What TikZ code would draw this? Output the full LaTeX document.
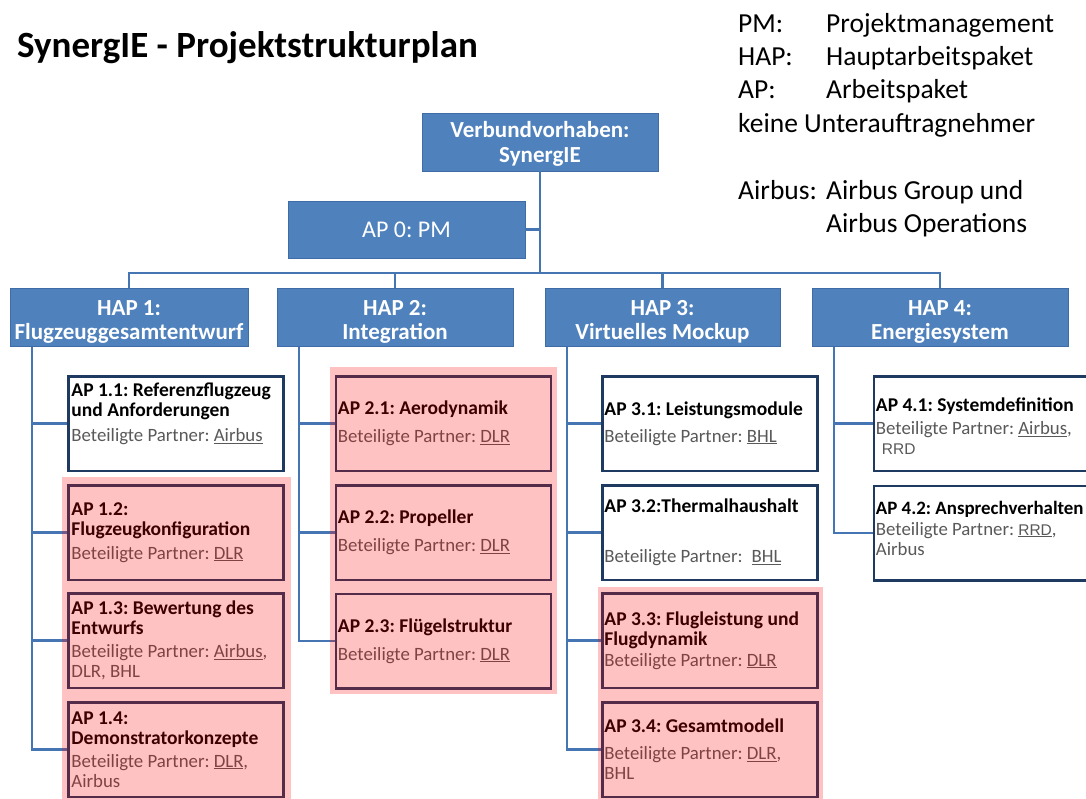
\documentclass[tikz,border=0pt]{standalone}
\usepackage{fontspec}
\setmainfont{Carlito}
\newfontfamily\rrdfont{Liberation Sans}
\definecolor{hapblue}{HTML}{4F81BD}
\definecolor{hapedge}{HTML}{3F6CA6}
\definecolor{conn}{HTML}{4675B3}
\definecolor{apedge}{HTML}{1F3A60}
\definecolor{pgray}{HTML}{595959}
\newcommand\fs[2]{\fontsize{#1}{#2}\selectfont}
\newcommand\apt[1]{{\bfseries #1}}
\newcommand\ptn[1]{{\color{pgray}\fs{18.8}{20}#1}}
\newcommand\rrd[1]{{\rrdfont\fs{15.5}{20}#1}}
\newcommand\hapup{\rule{0pt}{24.4pt}}
\begin{document}
\frenchspacing
\begin{tikzpicture}[x=1pt,y=-1pt,
  bluebox/.style={draw=hapedge, line width=0.8pt, fill=hapblue, text=white, align=center, inner sep=0pt},
  hapbox/.style={bluebox, minimum height=58pt, font=\bfseries\fs{23}{24}},
  apbox/.style={draw=apedge, line width=2.5pt, fill=white, minimum width=215pt, minimum height=94.5pt, inner sep=0pt},
  aptext/.style={align=left, inner sep=0pt, font=\fs{19.5}{20}},
  link/.style={draw=conn, line width=2.5pt},
  legtext/.style={anchor=base west, inner sep=0pt, font=\fs{27.5}{33}},
  pinkveil/.style={fill=red, fill opacity=0.24}
]
\useasboundingbox (0,0) rectangle (1086,798);
\fill[white] (0,0) rectangle (1086,798);
\clip (0,0) rectangle (1086,798);

% title and legend
\node[anchor=base west, inner sep=0pt, font=\bfseries\fs{37}{40}] (title) at (17,57) {SynergIE - Projektstrukturplan};
\node[legtext] (l1a) at (738,32) {PM:};
\node[legtext] (l1b) at (826,32) {Projektmanagement};
\node[legtext] (l2a) at (738,65) {HAP:};
\node[legtext] (l2b) at (826,65) {Hauptarbeitspaket};
\node[legtext] (l3a) at (738,98.5) {AP:};
\node[legtext] (l3b) at (826,98.5) {Arbeitspaket};
\node[legtext] (l4) at (738,132) {keine Unterauftragnehmer};
\node[legtext] (l5a) at (738,199) {Airbus:};
\node[legtext] (l5b) at (826,199) {Airbus Group und};
\node[legtext] (l6) at (826,232.5) {Airbus Operations};

% top boxes
\node[bluebox, minimum width=236pt, minimum height=58pt, font=\bfseries\fs{23}{25}] (vb) at (540,142) {\rule{0pt}{20.4pt}Verbundvorhaben:\\SynergIE};
\node[bluebox, minimum width=237pt, minimum height=57pt, font=\fs{24}{25}] (ap0) at (406.5,229.5) {AP 0: PM};

% HAP boxes
\node[hapbox, minimum width=238pt] (hap1) at (129,317.5) {\hapup HAP 1:\\Flugzeuggesamtentwurf};
\node[hapbox, minimum width=236pt] (hap2) at (395,317.5) {\hapup HAP 2:\\Integration};
\node[hapbox, minimum width=235pt] (hap3) at (662.5,317.5) {\hapup HAP 3:\\Virtuelles Mockup};
\node[hapbox, minimum width=256pt] (hap4) at (940,317.5) {\hapup HAP 4:\\Energiesystem};

% upper connectors
\coordinate (bus) at (540,273);
\draw[link] (vb.south) -- (bus);
\draw[link] (ap0.east) -- (ap0.east -| vb.south);
\draw[link] (hap1.north) -- (hap1.north |- bus) -- (hap4.north |- bus) -- (hap4.north);
\draw[link] (hap2.north) -- (hap2.north |- bus);
\draw[link] (hap3.north) -- (hap3.north |- bus);

\coordinate (v1) at ([xshift=22.5pt]hap1.south west);
\coordinate (v2) at ([xshift=22.5pt]hap2.south west);
\coordinate (v3) at ([xshift=22.5pt]hap3.south west);
\coordinate (v4) at ([xshift=22.5pt]hap4.south west);

% AP boxes
\node[apbox] (ap11) at (176,423.5) {};
\node[apbox] (ap12) at (176,532.5) {};
\node[apbox] (ap13) at (176,640.5) {};
\node[apbox] (ap14) at (176,749.5) {};
\node[apbox] (ap21) at (443.5,423.5) {};
\node[apbox] (ap22) at (443.5,532.5) {};
\node[apbox] (ap23) at (443.5,641) {};
\node[apbox] (ap31) at (710,423.5) {};
\node[apbox] (ap32) at (710,532.5) {};
\node[apbox] (ap33) at (710,640.5) {};
\node[apbox] (ap34) at (710,749.5) {};
\node[apbox] (ap41) at (981.5,423.5) {};
\node[apbox] (ap42) at (981.5,533) {};

% lower connectors
\foreach \v/\b in {v1/ap11,v1/ap12,v1/ap13,v1/ap14,v2/ap21,v2/ap22,v2/ap23,v3/ap31,v3/ap32,v3/ap33,v3/ap34,v4/ap41,v4/ap42}
  \draw[link] (\v) |- (\b.west);

% AP texts
\node[aptext, anchor=north west] (t11) at ([xshift=4pt,yshift=-8pt]ap11.north west)
  {\apt{AP 1.1: Referenzflugzeug}\\\apt{und Anforderungen}\\[5pt]\ptn{Beteiligte Partner: \underline{Airbus}}};
\node[aptext, anchor=west] (t12) at ([xshift=4pt]ap12.west)
  {\apt{AP 1.2:}\\\apt{Flugzeugkonfiguration}\\[4pt]\ptn{Beteiligte Partner: \underline{DLR}}};
\node[aptext, anchor=west] (t13) at ([xshift=4pt]ap13.west)
  {\apt{AP 1.3: Bewertung des}\\\apt{Entwurfs}\\[3pt]\ptn{Beteiligte Partner: \underline{Airbus},}\\\ptn{DLR, BHL}};
\node[aptext, anchor=west] (t14) at ([xshift=4pt]ap14.west)
  {\apt{AP 1.4:}\\\apt{Demonstratorkonzepte}\\[3pt]\ptn{Beteiligte Partner: \underline{DLR},}\\\ptn{Airbus}};
\node[aptext, anchor=west] (t21) at ([xshift=3pt]ap21.west)
  {\apt{AP 2.1: Aerodynamik}\\[8pt]\ptn{Beteiligte Partner: \underline{DLR}}};
\node[aptext, anchor=west] (t22) at ([xshift=3pt]ap22.west)
  {\apt{AP 2.2: Propeller}\\[8pt]\ptn{Beteiligte Partner: \underline{DLR}}};
\node[aptext, anchor=west] (t23) at ([xshift=3pt]ap23.west)
  {\apt{AP 2.3: Flügelstruktur}\\[8pt]\ptn{Beteiligte Partner: \underline{DLR}}};
\node[aptext, anchor=west] (t31) at ([xshift=3pt]ap31.west)
  {\apt{AP 3.1: Leistungsmodule}\\[7pt]\ptn{Beteiligte Partner: \underline{BHL}}};
\node[aptext, anchor=west] (t32) at ([xshift=3pt]ap32.west)
  {\apt{AP 3.2:Thermalhaushalt}\\[30pt]\ptn{Beteiligte Partner:\hspace{9pt}\underline{BHL}}};
\node[aptext, anchor=west] (t33) at ([xshift=3pt]ap33.west)
  {\apt{AP 3.3: Flugleistung und}\\\apt{Flugdynamik}\\[1pt]\ptn{Beteiligte Partner: \underline{DLR}}};
\node[aptext, anchor=west] (t34) at ([xshift=3pt]ap34.west)
  {\apt{AP 3.4: Gesamtmodell}\\[7pt]\ptn{Beteiligte Partner: \underline{DLR},}\\\ptn{BHL}};
\node[aptext, anchor=west] (t41) at ([xshift=3pt,yshift=-3pt]ap41.west)
  {\apt{AP 4.1: Systemdefinition}\\[3pt]\ptn{Beteiligte Partner: \underline{Airbus},}\\\ptn{\hspace{6pt}\rrd{RRD}}};
\node[aptext, anchor=west] (t42) at ([xshift=3pt,yshift=5pt]ap42.west)
  {\apt{\fs{18.9}{20}AP 4.2: Ansprechverhalten}\\[1pt]\ptn{Beteiligte Partner: \underline{\rrd{RRD}},}\\\ptn{Airbus}};

% pink highlight of the DLR-led packages
\fill[pinkveil] (62,477) rectangle (291,800);
\fill[pinkveil] (330,367) rectangle (557,694);
\fill[pinkveil] (598,587) rectangle (823,800);
\end{tikzpicture}
\end{document}
